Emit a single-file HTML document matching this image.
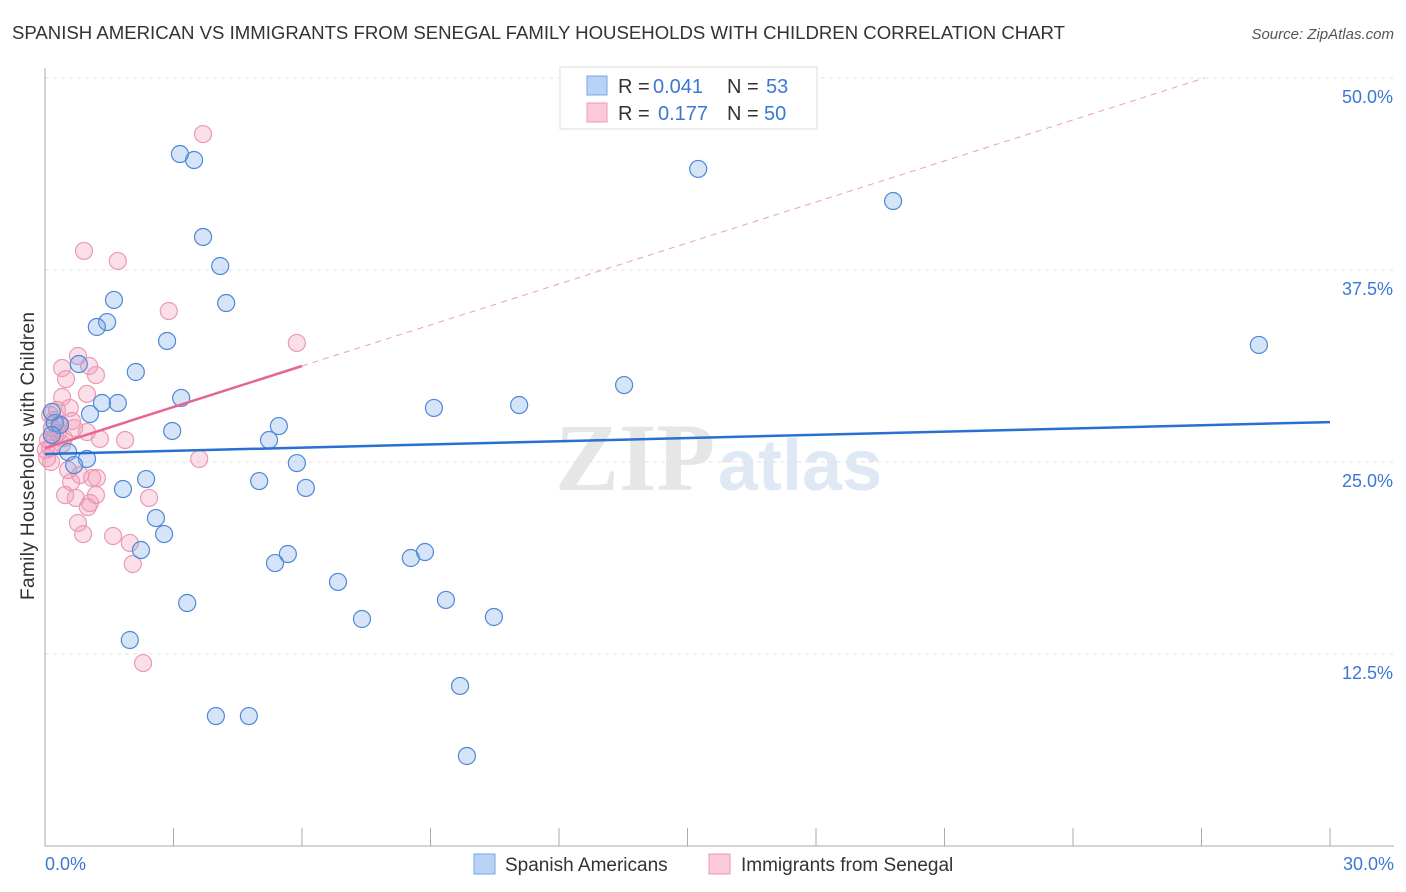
<!DOCTYPE html>
<html><head><meta charset="utf-8"><style>
body{margin:0;background:#fff;font-family:"Liberation Sans",sans-serif;}
svg{display:block}
</style></head><body>
<svg id="chart" width="1406" height="892" xmlns="http://www.w3.org/2000/svg">
<text x="12" y="39" font-size="18.6" fill="#333" textLength="1053">SPANISH AMERICAN VS IMMIGRANTS FROM SENEGAL FAMILY HOUSEHOLDS WITH CHILDREN CORRELATION CHART</text>
<text x="1394" y="39" font-size="15" fill="#555" text-anchor="end" font-style="italic">Source: ZipAtlas.com</text>
<g>
<text x="555" y="490" font-size="96" fill="#e6e6e6" font-family="Liberation Serif,serif" font-weight="bold">ZIP</text>
<text x="718" y="490" font-size="72" fill="#dfe8f5" font-weight="bold">atlas</text>
</g>
<g id="grid"></g>
<g id="axes"></g>
<g id="trend"></g>
<g id="points"></g>
<text x="34" y="456" font-size="19" fill="#333" text-anchor="middle" textLength="288" transform="rotate(-90 34 456)">Family Households with Children</text>
<g>
<rect x="560" y="67" width="257" height="62" fill="#fff" stroke="#ddd"/>
<rect x="587" y="76" width="20" height="19" fill="#b8d3f5" stroke="#7aa7e0"/>
<rect x="587" y="103" width="20" height="19" fill="#fbc9d8" stroke="#ee9ab4"/>
<text x="618" y="93" font-size="20" fill="#333">R = </text><text x="653" y="93" font-size="20" fill="#3a78d4">0.041</text>
<text x="727" y="93" font-size="20" fill="#333">N = </text><text x="766" y="93" font-size="20" fill="#3a78d4">53</text>
<text x="618" y="120" font-size="20" fill="#333">R = </text><text x="658" y="120" font-size="20" fill="#3a78d4">0.177</text>
<text x="727" y="120" font-size="20" fill="#333">N = </text><text x="764" y="120" font-size="20" fill="#3a78d4">50</text>
</g>
<g>
<rect x="474" y="854" width="21" height="20" fill="#b8d3f5" stroke="#7aa7e0"/>
<text x="505" y="871" font-size="19" fill="#333">Spanish Americans</text>
<rect x="709" y="854" width="21" height="20" fill="#fbc9d8" stroke="#ee9ab4"/>
<text x="741" y="871" font-size="19" fill="#333">Immigrants from Senegal</text>
</g>
</svg>
<script>
const blueX=[3.15,3.48,15.25,19.80,3.69,4.09,1.61,4.23,1.45,1.21,2.85,28.34,0.79,2.12,13.52,3.18,1.33,1.70,9.08,11.07,1.05,0.23,0.35,2.97,5.46,5.23,0.16,0.54,0.98,0.68,5.88,2.36,5.00,1.82,6.09,2.59,2.78,2.24,5.67,8.87,8.54,5.37,6.84,9.36,3.32,10.48,7.40,1.98,9.69,3.99,4.76,9.85,0.16];
const blueY=[45.05,44.66,44.08,41.99,39.65,37.76,35.55,35.35,34.11,33.79,32.88,32.62,31.38,30.86,30.01,29.17,28.84,28.84,28.52,28.71,28.12,27.54,27.41,27.02,27.34,26.43,26.76,25.65,25.20,24.80,24.93,23.89,23.76,23.24,23.31,21.35,20.31,19.27,19.01,19.14,18.75,18.42,17.19,16.02,15.82,14.91,14.78,13.41,10.42,8.46,8.46,5.86,28.26];
const pinkX=[3.69,0.91,1.70,2.89,5.88,0.77,1.03,0.40,1.19,0.49,0.98,0.40,0.58,0.28,0.12,0.63,0.35,0.98,0.68,0.16,0.23,1.28,1.87,0.07,0.40,0.12,0.05,0.14,3.60,0.54,0.82,1.21,1.10,0.61,0.47,1.19,2.43,0.72,1.05,1.00,0.77,0.89,1.59,1.98,2.05,2.29,0.21,0.30,0.44,0.02];
const pinkY=[46.35,38.74,38.09,34.83,32.75,31.90,31.25,31.12,30.66,30.40,29.43,29.23,28.52,28.39,28.06,27.67,27.47,26.95,27.21,27.21,26.63,26.50,26.43,26.43,26.17,25.91,25.26,25.00,25.20,24.48,24.15,23.96,23.96,23.70,22.85,22.85,22.66,22.66,22.33,22.07,21.03,20.31,20.18,19.73,18.36,11.91,27.73,26.89,26.56,25.78];
const yTicks=[12.5,25.0,37.5,50.0];
const yTickLabels=["12.5%","25.0%","37.5%","50.0%"];
const blueTrend=[25.52,27.60];
const pinkTrend=[25.91,0.89];
const NS="http://www.w3.org/2000/svg";
const X=v=>45+v/30*1285, Y=v=>846-v*15.36;
function mk(tag,attrs,parent){const e=document.createElementNS(NS,tag);for(const k in attrs)e.setAttribute(k,attrs[k]);parent.appendChild(e);return e;}
const grid=document.getElementById('grid'),axes=document.getElementById('axes');
yTicks.forEach((t,i)=>{
 const l=mk('line',{x1:45,x2:1394,y1:Y(t),y2:Y(t),stroke:'#e2e2e2','stroke-dasharray':'4,4'},grid);
 
 
 const tx=mk('text',{x:1393,y:Y(t)+25,'font-size':18,fill:'#3a78d4','text-anchor':'end'},axes);
 tx.textContent=yTickLabels[i];
 
 
});
const ya=mk('line',{x1:45,x2:45,y1:68,y2:846,stroke:'#aaa'},axes);


const xa=mk('line',{x1:45,x2:1394,y1:846,y2:846,stroke:'#aaa'},axes);


for(let i=0;i<=10;i++){const tk=mk('line',{x1:X(i*3),x2:X(i*3),y1:828,y2:846,stroke:'#aaa'},axes);
 
 }
const xl0=mk('text',{x:45,y:870,'font-size':18,fill:'#3a78d4'},axes);xl0.textContent='0.0%';


const xl1=mk('text',{x:1394,y:870,'font-size':18,fill:'#3a78d4','text-anchor':'end'},axes);xl1.textContent='30.0%';


const pts=document.getElementById('points');
pinkX.forEach((x,i)=>{const c=mk('circle',{cx:X(x),cy:Y(pinkY[i]),r:8.5,fill:'rgba(242,150,178,0.3)',stroke:'#eb9ab3','stroke-width':1.2},pts);
 
 });
blueX.forEach((x,i)=>{const c=mk('circle',{cx:X(x),cy:Y(blueY[i]),r:8.5,fill:'rgba(120,165,230,0.3)',stroke:'#4f88d6','stroke-width':1.2},pts);
 
 });
const tr=document.getElementById('trend');
const pEnd=(50-pinkTrend[0])/pinkTrend[1];
const pd=mk('line',{x1:X(6),y1:Y(pinkTrend[0]+6*pinkTrend[1]),x2:X(pEnd),y2:Y(50),stroke:'#eaa0b8','stroke-dasharray':'6,5','stroke-width':1},tr);


const bl=mk('line',{x1:X(0),y1:Y(blueTrend[0]),x2:X(30),y2:Y(blueTrend[1]),stroke:'#2a6fd2','stroke-width':2.5},pts);


const pl=mk('line',{x1:X(0),y1:Y(pinkTrend[0]),x2:X(6),y2:Y(pinkTrend[0]+6*pinkTrend[1]),stroke:'#e56690','stroke-width':2.5},pts);


</script>
</body></html>
